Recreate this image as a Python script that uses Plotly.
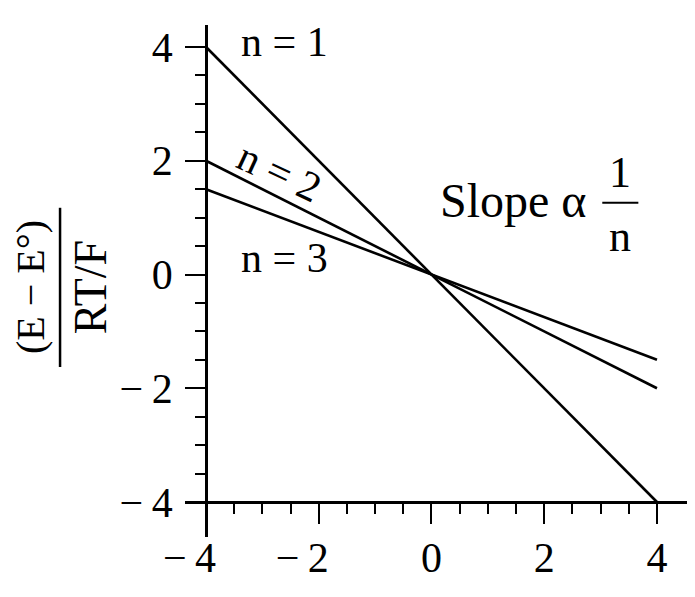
import plotly.graph_objects as go

# line end points (x) and the values for each n
x_ends = [-4, 4]
y_n1 = [4, -4]
y_n2 = [2, -2]
y_n3 = [1.5, -1.5]

major_ticks = [-4, -2, 0, 2, 4]
minor_ticks = [v / 2 for v in range(-8, 9) if v % 4 != 0]
# x labels keep the digit centred on the tick, the minus hangs to the left
x_tick_text = ["−\u20094\u2002\u2009\u200a", "−\u20092\u2002\u2009\u200a", "0", "2", "4"]
y_tick_text = ["−\u20094", "−\u20092", "0", "2", "4"]

FONT = "Liberation Serif"

fig = go.Figure()
for ys in (y_n1, y_n2, y_n3):
    fig.add_trace(go.Scatter(
        x=x_ends, y=ys, mode="lines",
        line=dict(color="black", width=2.6),
        showlegend=False, hoverinfo="skip",
    ))

axis_style = dict(
    showgrid=False, zeroline=False,
    showline=True, linecolor="black", linewidth=2.8,
    tickmode="array", tickvals=major_ticks,
    ticks="outside", ticklen=20, tickwidth=2.2, tickcolor="black",
    tickfont=dict(family=FONT, size=42, color="black"),
    minor=dict(tickmode="array", tickvals=minor_ticks, ticks="outside",
               ticklen=10, tickwidth=2.2, tickcolor="black"),
    anchor="free", fixedrange=True,
)

# the page body has an 8px margin, so the figure is 8px smaller each way
fig.update_layout(
    width=687, height=589,
    margin=dict(l=177, r=0, t=17, b=60),
    paper_bgcolor="white", plot_bgcolor="white",
    xaxis=dict(range=[-4.373, 4.675], position=0.0684,
               ticktext=x_tick_text, ticklabelstandoff=-2, **axis_style),
    yaxis=dict(range=[-4.615, 4.387], position=0.0412,
               ticktext=y_tick_text, ticklabelstandoff=4, **axis_style),
)

def label(text, x, y, size=42, angle=0, xref="x", yref="y"):
    fig.add_annotation(
        text=text, x=x, y=y, xref=xref, yref=yref,
        xanchor="center", yanchor="middle",
        showarrow=False, textangle=angle,
        font=dict(family=FONT, size=size, color="black"),
    )

label("n = 1", -2.61, 4.09)
label("n = 2", -2.70, 1.80, angle=25)
label("n = 3", -2.61, 0.29)
label("Slope α", 1.45, 1.31, size=48)
label("1", 3.35, 1.80, size=44)
label("n", 3.35, 0.66, size=44)
fig.add_shape(type="line", x0=3.03, x1=3.67, y0=1.26, y1=1.26,
              xref="x", yref="y", line=dict(color="black", width=2))

# y axis title drawn as a rotated fraction
label("(E − E°)", -0.304, 0.488, size=40, angle=-90, xref="paper", yref="paper")
label("RT/F", -0.186, 0.488, size=46, angle=-90, xref="paper", yref="paper")
fig.add_shape(type="line", x0=-0.245, x1=-0.245, y0=0.332, y1=0.643,
              xref="paper", yref="paper", line=dict(color="black", width=2.5))

fig.write_html("out.html")
